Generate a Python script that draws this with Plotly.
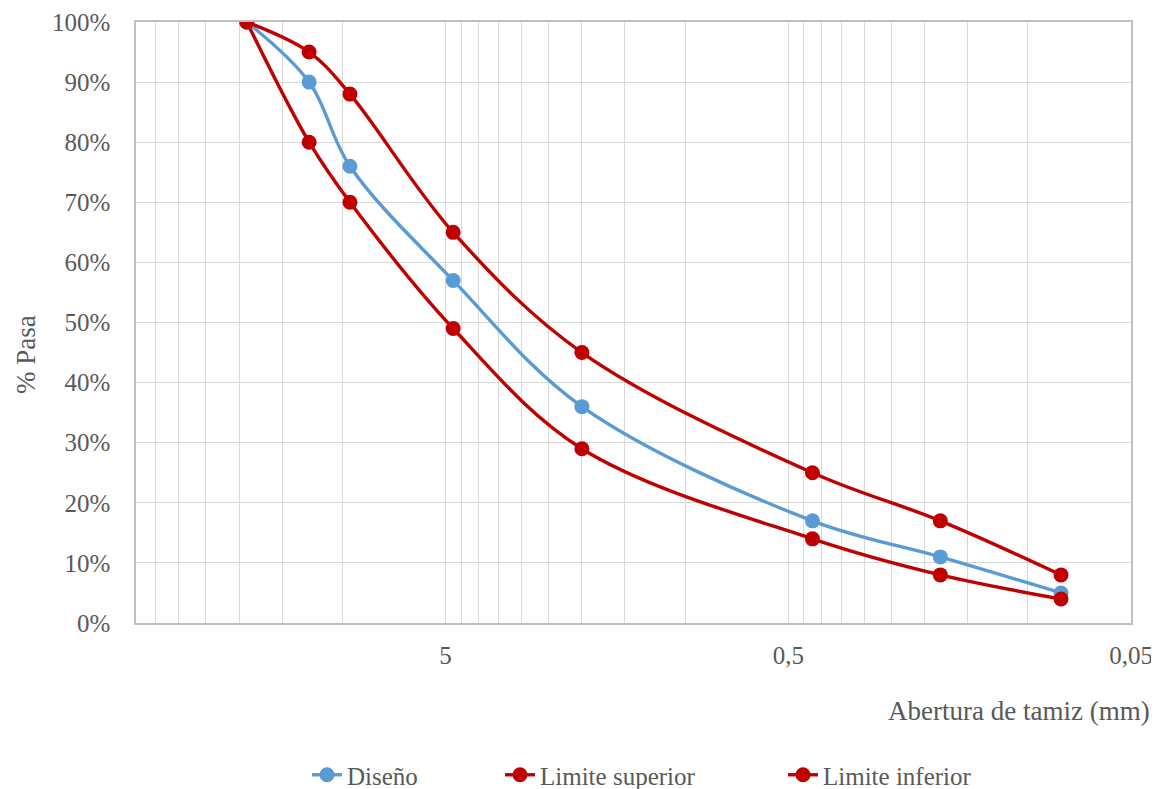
import math
import plotly.graph_objects as go

# Sieve openings (mm)
abertura = [19, 12.5, 9.5, 4.75, 2.0, 0.425, 0.18, 0.08]
diseno = [100, 90, 76, 57, 36, 17, 11, 5]
lim_sup = [100, 95, 88, 65, 45, 25, 17, 8]
lim_inf = [100, 80, 70, 49, 29, 14, 8, 4]

x_tick_vals = [5, 0.5, 0.05]
x_tick_text = ["5", "0,5", "0,05"]
y_tick_vals = [0, 10, 20, 30, 40, 50, 60, 70, 80, 90, 100]
y_tick_text = [f"{v}%" for v in y_tick_vals]

# minor grid positions (Excel-style log minor gridlines)
minor_vals = []
for base in (0.05, 0.5, 5):
    for k in range(2, 10):
        v = base * k
        if v <= 40:
            minor_vals.append(v)

BLUE = "#5B9BD5"
RED = "#C00000"
FONT = "Liberation Serif"
TXT = "#595959"
FS = 25
FT = 27

fig = go.Figure()
series = [("Diseño", diseno, BLUE, "legend"),
          ("Limite superior", lim_sup, RED, "legend2"),
          ("Limite inferior", lim_inf, RED, "legend3")]
for name, ys, col, lg in series:
    fig.add_trace(go.Scatter(
        x=abertura, y=ys, name=name, mode="lines+markers",
        line=dict(color=col, width=3.4, shape="spline", smoothing=1),
        marker=dict(color=col, size=15),
        legend=lg, showlegend=True,
    ))

OFF = 8  # page body margin
W, H = 1159 - OFF, 789 - OFF
L = 136 - OFF
T = 22 - OFF
R = W - (1131 - OFF)
B = H - (623 - OFF)
pw = W - L - R
ph = H - T - B

def px_x(p):
    return (p - OFF - L) / pw

def px_y(p):
    return (H - B - (p - OFF)) / ph

leg_common = dict(orientation="h", font=dict(family=FONT, size=FS, color=TXT),
                  bgcolor="rgba(0,0,0,0)", yanchor="middle", xanchor="left",
                  y=px_y(775))

fig.update_layout(
    width=W, height=H,
    margin=dict(l=L, r=R, t=T, b=B, autoexpand=False),
    plot_bgcolor="white", paper_bgcolor="white",
    showlegend=True,
    font=dict(family=FONT, size=FS, color=TXT),
    legend=dict(x=px_x(307), **leg_common),
    legend2=dict(x=px_x(500), **leg_common),
    legend3=dict(x=px_x(783), **leg_common),
    xaxis=dict(
        type="log", autorange=False,
        range=[math.log10(40), math.log10(0.05)],
        tickmode="array", tickvals=x_tick_vals, ticktext=x_tick_text,
        showgrid=True, gridcolor="#D9D9D9", gridwidth=1,
        minor=dict(tickmode="array", tickvals=minor_vals, showgrid=True,
                   gridcolor="#D9D9D9", gridwidth=1, ticks=""),
        showline=True, linecolor="#BFBFBF", linewidth=1.5, mirror=True,
        ticks="", ticklabelstandoff=9,
        tickfont=dict(family=FONT, size=FS, color=TXT),
        zeroline=False,
    ),
    yaxis=dict(
        range=[0, 100], tickmode="array", tickvals=y_tick_vals,
        ticktext=y_tick_text,
        showgrid=True, gridcolor="#D9D9D9", gridwidth=1,
        showline=True, linecolor="#BFBFBF", linewidth=1.5, mirror=True,
        ticks="", ticklabelstandoff=19,
        tickfont=dict(family=FONT, size=FS, color=TXT),
        zeroline=False,
    ),
    annotations=[
        dict(text="Abertura de tamiz (mm)", xref="paper", yref="paper",
             x=px_x(1152), y=px_y(711), xanchor="right", yanchor="middle",
             showarrow=False, font=dict(family=FONT, size=FT, color=TXT)),
        dict(text="% Pasa", xref="paper", yref="paper",
             x=px_x(26), y=px_y(355), xanchor="center", yanchor="middle",
             textangle=-90, showarrow=False, borderpad=0,
             font=dict(family=FONT, size=FT, color=TXT)),
    ],
)

fig.write_html("out.html")
